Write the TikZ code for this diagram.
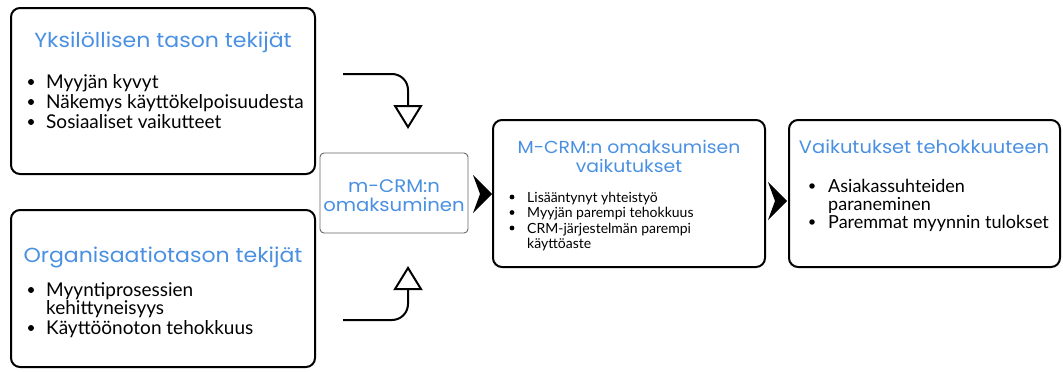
\documentclass[tikz,border=0pt]{standalone}
\usepackage{fontspec}
\setmainfont{Lato}
\newfontfamily\titlefont[FakeStretch=1.08]{Poppins}
\usetikzlibrary{arrows.meta}
\definecolor{tblue}{RGB}{74,144,226}
\tikzset{
  bigbox/.style={draw=black, line width=2pt, rounded corners=9pt},
  midbox/.style={draw=black!60, line width=0.9pt, rounded corners=4pt},
  ttl/.style={font=\titlefont\fontsize{#1}{#1}\selectfont, text=tblue, inner sep=0pt, anchor=base},
  bl/.style={font=\fontsize{#1}{#1}\selectfont, inner sep=0pt, anchor=base west},
  dot/.style={circle, fill=black, inner sep=0pt, minimum size=#1},
  feed/.style={line width=2pt, rounded corners=16pt, -{Triangle[open, width=29pt, length=24pt, line width=2pt]}},
  chev/.style={fill=black}
}
\begin{document}
\begin{tikzpicture}[x=1pt, y=-1pt]
\useasboundingbox (0,0) rectangle (1063,372);
% boxes
\draw[bigbox] (11,8) rectangle (315,174);
\coordinate (b1) at (163,91);
\draw[bigbox] (11,210) rectangle (315,367);
\coordinate (b2) at (163,288);
\draw[midbox] (320,153) rectangle (468,233);
\node (mid) at (394,193) {};
\draw[bigbox] (493,120) rectangle (765,267);
\node (b3) at (629,194) {};
\draw[bigbox] (789,120) rectangle (1060,267);
\node (b4) at (924,194) {};
% box 1
\node[ttl=20.4] (t1) at (163,47) {Yksilöllisen tason tekijät};
\node[dot=6pt] (d11) at (31,82) {};
\node[bl=19] (l11) at (46,88.5) {Myyjän kyvyt};
\node[dot=6pt] (d12) at (31,102) {};
\node[bl=19] (l12) at (46,108.5) {Näkemys käyttökelpoisuudesta};
\node[dot=6pt] (d13) at (31,122) {};
\node[bl=19] (l13) at (46,128.5) {Sosiaaliset vaikutteet};
% box 2
\node[ttl=20.4] (t2) at (163,262) {Organisaatiotason tekijät};
\node[dot=6pt] (d21) at (31,290) {};
\node[bl=19] (l21) at (46,296.5) {Myyntiprosessien};
\node[bl=19] (l22) at (46,314.5) {kehittyneisyys};
\node[dot=6pt] (d22) at (31,328) {};
\node[bl=19] (l23) at (46,334.5) {Käyttöönoton tehokkuus};
% middle
\node[ttl=18.2] (tm1) at (394,192) {m-CRM:n};
\node[ttl=18.2] (tm2) at (394,211) {omaksuminen};
% box 3
\node[ttl=17.4] (t31) at (629,153) {M-CRM:n omaksumisen};
\node[ttl=17.4] (t32) at (629,172) {vaikutukset};
\node[dot=4.8pt] (d31) at (512,197) {};
\node[bl=14] (l31) at (527,202) {Lisääntynyt yhteistyö};
\node[dot=4.8pt] (d32) at (512,212.5) {};
\node[bl=14] (l32) at (527,217.5) {Myyjän parempi tehokkuus};
\node[dot=4.8pt] (d33) at (512,228) {};
\node[bl=14] (l33) at (527,233) {CRM-järjestelmän parempi};
\node[bl=14] (l34) at (527,248.5) {käyttöaste};
% box 4
\node[ttl=18] (t4) at (924,153) {Vaikutukset tehokkuuteen};
\node[dot=5.5pt] (d41) at (812,186) {};
\node[bl=18] (l41) at (828,192) {Asiakassuhteiden};
\node[bl=18] (l42) at (828,210) {paraneminen};
\node[dot=5.5pt] (d42) at (812,222) {};
\node[bl=18] (l43) at (828,228) {Paremmat myynnin tulokset};
% feedback arrows
\coordinate (s1) at (343,74);
\coordinate (e1) at (408,129);
\coordinate (s2) at (343,320);
\coordinate (e2) at (408,266);
\draw[feed] (s1) -| (e1);
\draw[feed] (s2) -| (e2);
% chevrons
\fill[chev] (473,175) -- (492,194) -- (473,213) -- (480,194) -- cycle;
\fill[chev] (768,182) -- (787,201) -- (768,220) -- (775,201) -- cycle;
\end{tikzpicture}
\end{document}
